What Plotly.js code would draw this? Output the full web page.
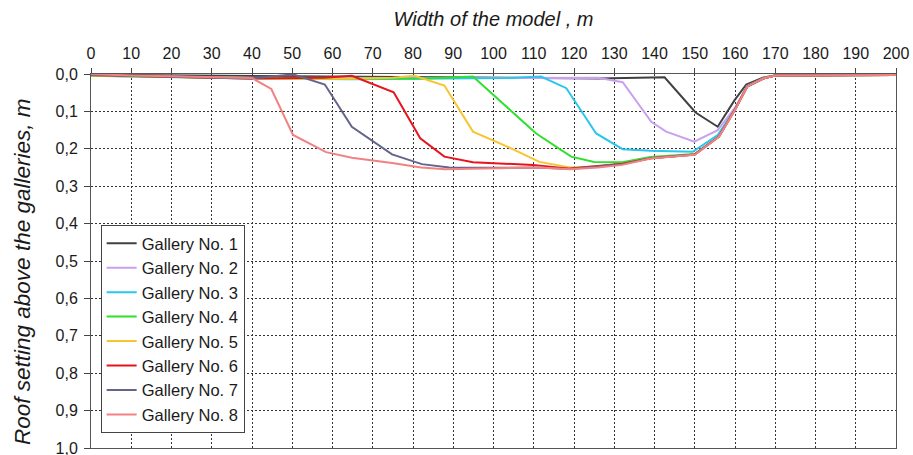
<!DOCTYPE html>
<html>
<head>
<meta charset="utf-8">
<script src="https://cdn.plot.ly/plotly-3.0.1.min.js"></script>
<style>
html,body{margin:0;padding:0;background:#fff;}
#chart{width:913px;height:455px;}
</style>
</head>
<body>
<div id="chart"></div>
<script>
// Series names
const galleryNames = ["Gallery No. 1","Gallery No. 2","Gallery No. 3","Gallery No. 4",
                      "Gallery No. 5","Gallery No. 6","Gallery No. 7","Gallery No. 8"];

// Gallery No. 1
const g1x = [0, 40, 80, 110, 126, 142.5, 150.2, 155.7, 159.9, 162.8, 166.9, 169.8, 200];
const g1y = [0.002, 0.005, 0.008, 0.010, 0.012, 0.009, 0.103, 0.141, 0.070, 0.028, 0.010, 0.004, 0.002];
// Gallery No. 2
const g2x = [0, 40, 80, 110, 126, 132.1, 139.2, 142.9, 149.9, 155.7, 160, 163, 167, 170, 200];
const g2y = [0.005, 0.010, 0.011, 0.010, 0.010, 0.022, 0.128, 0.154, 0.181, 0.150, 0.090, 0.032, 0.011, 0.004, 0.003];
// Gallery No. 3
const g3x = [0, 40, 64.8, 82, 95, 103, 111.8, 118.1, 125.5, 132.1, 139, 149.5, 155.7, 160, 163, 167, 170, 200];
const g3y = [0.005, 0.012, 0.014, 0.013, 0.012, 0.011, 0.007, 0.038, 0.159, 0.201, 0.205, 0.208, 0.163, 0.095, 0.034, 0.012, 0.004, 0.003];
// Gallery No. 4
const g4x = [0, 20, 40, 58, 64.8, 75, 82, 88, 94.9, 110.6, 119.3, 125, 132, 139, 150, 156, 160, 163, 167, 170, 200];
const g4y = [0.005, 0.008, 0.012, 0.013, 0.013, 0.013, 0.012, 0.010, 0.007, 0.159, 0.221, 0.235, 0.236, 0.222, 0.214, 0.167, 0.095, 0.034, 0.012, 0.004, 0.003];
// Gallery No. 5
const g5x = [0, 20, 40, 58, 64.8, 75, 80.4, 87.8, 94.9, 103, 111.4, 119, 126, 132, 139, 150, 156, 160, 163, 167, 170, 200];
const g5y = [0.004, 0.008, 0.012, 0.013, 0.013, 0.010, 0.005, 0.031, 0.154, 0.192, 0.235, 0.250, 0.247, 0.240, 0.225, 0.215, 0.167, 0.095, 0.034, 0.012, 0.004, 0.003];
// Gallery No. 6
const g6x = [0, 10, 20, 30, 40, 50, 58, 64.8, 75.2, 81.8, 87.8, 94.9, 103, 109.8, 119, 126, 132, 139, 150, 156, 160, 163, 167, 170, 200];
const g6y = [0.003, 0.006, 0.008, 0.010, 0.012, 0.012, 0.010, 0.005, 0.049, 0.172, 0.221, 0.236, 0.240, 0.243, 0.253, 0.247, 0.240, 0.225, 0.215, 0.167, 0.095, 0.034, 0.012, 0.004, 0.003];
// Gallery No. 7
const g7x = [0, 10, 20, 30, 40, 50.2, 58.1, 64.8, 74.8, 82.2, 89, 95, 103, 111, 119, 126, 132, 139, 150, 156, 160, 163, 167, 170, 200];
const g7y = [0.003, 0.005, 0.006, 0.008, 0.012, 0.001, 0.028, 0.141, 0.215, 0.241, 0.250, 0.251, 0.251, 0.250, 0.254, 0.248, 0.241, 0.225, 0.215, 0.167, 0.095, 0.034, 0.012, 0.004, 0.003];
// Gallery No. 8
const g8x = [0, 10, 20, 30, 40, 44.8, 50.2, 58.4, 64.8, 74.8, 82, 88, 95, 103, 111, 119, 126, 132, 139, 150, 156, 160, 163, 167, 170, 200];
const g8y = [0.000, 0.004, 0.006, 0.008, 0.011, 0.040, 0.163, 0.209, 0.224, 0.238, 0.250, 0.255, 0.253, 0.251, 0.250, 0.255, 0.250, 0.243, 0.226, 0.216, 0.168, 0.096, 0.034, 0.012, 0.004, 0.003];

const seriesX = [g1x, g2x, g3x, g4x, g5x, g6x, g7x, g8x];
const seriesY = [g1y, g2y, g3y, g4y, g5y, g6y, g7y, g8y];
const colors = ["#404040", "#c9a0f0", "#29c6ee", "#2ee02e", "#f7c531", "#e8141c", "#64648c", "#f28282"];

const xTitle = "Width of the model , m";
const yTitle = "Roof setting above the galleries, m";

const traces = galleryNames.map((name, i) => ({
  type: "scatter",
  mode: "lines",
  name: name,
  x: seriesX[i],
  y: seriesY[i],
  line: {color: colors[i], width: 2}
}));

const fontFam = "Liberation Sans, Arial, sans-serif";
const layout = {
  width: 913,
  height: 455,
  margin: {l: 91, r: 17, t: 74, b: 7},
  paper_bgcolor: "#ffffff",
  plot_bgcolor: "#ffffff",
  separators: ",.",
  font: {family: fontFam, size: 16, color: "#1a1a1a"},
  showlegend: true,
  legend: {
    x: 0.012, y: 0.04, xanchor: "left", yanchor: "bottom",
    bgcolor: "#ffffff", bordercolor: "#444444", borderwidth: 1,
    font: {family: fontFam, size: 16.5, color: "#1a1a1a"},
    tracegroupgap: 0
  },
  xaxis: {
    side: "top",
    range: [0, 200],
    tick0: 0, dtick: 10,
    showgrid: true, gridcolor: "#333333", gridwidth: 1, griddash: "2px,2px",
    zeroline: false,
    showline: true, linecolor: "#555555", linewidth: 1, mirror: true,
    ticks: "outside", ticklen: 5, tickcolor: "#444444",
    tickfont: {family: fontFam, size: 16, color: "#1a1a1a"},
    ticklabelstandoff: 3,
    title: {text: xTitle, font: {family: fontFam, size: 20, style: "italic", color: "#1a1a1a"}, standoff: 12},
    fixedrange: true
  },
  yaxis: {
    range: [1, 0],
    tick0: 0, dtick: 0.1,
    tickformat: ".1f",
    ticklabeloverflow: "allow",
    showgrid: true, gridcolor: "#333333", gridwidth: 1, griddash: "2px,2px",
    zeroline: false,
    showline: true, linecolor: "#555555", linewidth: 1, mirror: true,
    ticks: "outside", ticklen: 6, tickcolor: "#444444",
    tickfont: {family: fontFam, size: 16, color: "#1a1a1a"},
    ticklabelstandoff: 3,
    fixedrange: true
  },
  annotations: [{
    text: yTitle,
    xref: "paper", yref: "paper",
    x: -0.086, y: 0.47,
    xanchor: "center", yanchor: "middle",
    textangle: -90,
    showarrow: false,
    font: {family: fontFam, size: 22.5, style: "italic", color: "#1a1a1a"}
  }]
};

Plotly.newPlot("chart", traces, layout, {displayModeBar: false, staticPlot: true});
</script>
</body>
</html>
